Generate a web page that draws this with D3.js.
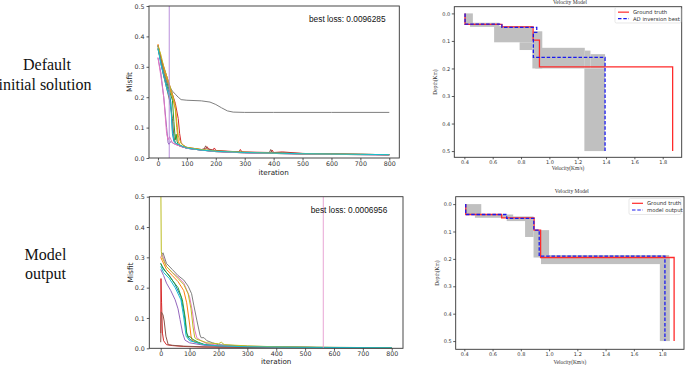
<!DOCTYPE html>
<html><head><meta charset="utf-8">
<script src="https://cdn.jsdelivr.net/npm/d3@7"></script>
<style>body{margin:0;background:#fff}svg{display:block}</style>
</head><body>
<script>
// ---------------- DATA ----------------
const rowLabels = [["Default","initial solution"],["Model","output"]];
const bestLossTop = "best loss: 0.0096285";
const bestLossBottom = "best loss: 0.0006956";
const bestIterTop = 39;
const bestIterBottom = 563;
const iterTicks = [0,100,200,300,400,500,600,700,800];
const misfitTicks = [0,0.1,0.2,0.3,0.4,0.5];
const velTicks = [0.4,0.6,0.8,1.0,1.2,1.4,1.6,1.8];
const depthTicks = [0,0.1,0.2,0.3,0.4,0.5];
const seriesColors = ["#1f77b4","#ff7f0e","#2ca02c","#d62728","#9467bd","#8c564b","#e377c2","#7f7f7f","#bcbd22","#17becf"];

// Top-left: misfit vs iteration (default initial solution)
const topBlue = [[0,0.37],[10,0.31],[20,0.27],[30,0.24],[40,0.21],[45,0.18],[50,0.08],[55,0.055],[60,0.05],[70,0.042],[80,0.038],[100,0.032],[150,0.026],[200,0.022],[300,0.018],[400,0.016],[500,0.014],[600,0.013],[700,0.012],[800,0.011]];
const topOrange = [[0,0.375],[10,0.33],[20,0.29],[30,0.26],[40,0.23],[50,0.2],[60,0.16],[65,0.1],[70,0.055],[75,0.045],[80,0.04],[100,0.033],[150,0.027],[200,0.022],[300,0.018],[400,0.016],[500,0.014],[600,0.013],[700,0.012],[800,0.011]];
const topGreen = [[0,0.36],[10,0.32],[20,0.28],[30,0.25],[40,0.22],[50,0.19],[55,0.12],[60,0.06],[63,0.078],[66,0.055],[70,0.045],[80,0.04],[100,0.032],[150,0.026],[200,0.021],[300,0.017],[400,0.015],[500,0.013],[600,0.012],[700,0.011],[800,0.01]];
const topRed = [[0,0.37],[10,0.33],[20,0.3],[30,0.27],[40,0.24],[50,0.21],[60,0.18],[70,0.13],[75,0.08],[80,0.05],[90,0.04],[100,0.035],[150,0.028],[165,0.03],[170,0.037],[175,0.03],[190,0.026],[195,0.033],[200,0.025],[280,0.02],[285,0.028],[290,0.02],[390,0.018],[395,0.026],[400,0.018],[430,0.02],[500,0.015],[600,0.013],[700,0.012],[800,0.011]];
const topPurple = [[0,0.33],[10,0.28],[20,0.2],[30,0.1],[35,0.05],[38,0.045],[45,0.055],[50,0.05],[60,0.045],[80,0.038],[100,0.032],[150,0.026],[200,0.021],[300,0.017],[400,0.015],[500,0.013],[600,0.012],[700,0.011],[800,0.01]];
const topBrown = [[0,0.36],[10,0.32],[20,0.27],[30,0.23],[40,0.19],[50,0.13],[55,0.07],[60,0.05],[70,0.042],[80,0.038],[100,0.033],[150,0.027],[160,0.03],[165,0.04],[170,0.03],[200,0.023],[300,0.019],[385,0.017],[390,0.028],[395,0.018],[500,0.015],[600,0.013],[700,0.012],[800,0.011]];
const topPink = [[0,0.33],[10,0.27],[20,0.2],[25,0.14],[30,0.08],[35,0.06],[40,0.07],[45,0.06],[50,0.05],[60,0.045],[80,0.038],[100,0.032],[150,0.026],[200,0.021],[300,0.017],[400,0.015],[500,0.013],[600,0.012],[700,0.011],[800,0.01]];
const topGray = [[0,0.37],[10,0.32],[20,0.28],[30,0.25],[40,0.235],[50,0.22],[60,0.21],[70,0.2],[80,0.192],[100,0.19],[150,0.188],[180,0.184],[200,0.176],[220,0.165],[240,0.155],[260,0.151],[300,0.15],[400,0.15],[600,0.15],[800,0.15]];
const topOlive = [[0,0.37],[10,0.34],[20,0.3],[30,0.27],[40,0.24],[50,0.21],[60,0.17],[65,0.12],[70,0.075],[75,0.06],[80,0.048],[90,0.04],[100,0.035],[150,0.028],[200,0.023],[300,0.019],[400,0.016],[500,0.014],[600,0.013],[700,0.012],[800,0.011]];
const topCyan = [[0,0.36],[10,0.31],[20,0.27],[30,0.23],[40,0.2],[45,0.16],[50,0.09],[55,0.06],[60,0.05],[80,0.04],[100,0.033],[150,0.026],[200,0.022],[300,0.018],[400,0.016],[500,0.014],[600,0.013],[700,0.012],[800,0.011]];

// Bottom-left: misfit vs iteration (model output)
const botBlue = [[0,0.28],[10,0.26],[30,0.24],[50,0.21],[70,0.17],[80,0.12],[90,0.05],[100,0.03],[120,0.02],[150,0.012],[200,0.008],[300,0.005],[400,0.004],[500,0.003],[600,0.002],[800,0.002]];
const botOrange = [[0,0.3],[5,0.29],[20,0.26],[40,0.24],[60,0.22],[80,0.19],[90,0.15],[100,0.08],[105,0.04],[110,0.025],[130,0.018],[150,0.012],[200,0.008],[300,0.005],[400,0.004],[500,0.003],[600,0.002],[800,0.002]];
const botGreen = [[0,0.28],[5,0.27],[20,0.25],[40,0.225],[60,0.2],[75,0.16],[85,0.1],[90,0.05],[95,0.035],[100,0.04],[110,0.03],[130,0.02],[150,0.013],[200,0.008],[300,0.005],[400,0.004],[500,0.003],[600,0.002],[800,0.002]];
const botRed = [[0,0.05],[1,0.23],[3,0.15],[6,0.05],[10,0.025],[20,0.012],[40,0.009],[80,0.006],[150,0.004],[300,0.003],[500,0.002],[800,0.001]];
const botPurple = [[0,0.26],[10,0.24],[20,0.215],[35,0.19],[50,0.16],[60,0.13],[67,0.095],[76,0.05],[84,0.027],[100,0.018],[150,0.01],[200,0.007],[300,0.005],[400,0.004],[500,0.003],[600,0.002],[800,0.002]];
const botBrown = [[0,0.02],[2,0.12],[8,0.11],[12,0.09],[18,0.04],[26,0.012],[40,0.01],[80,0.007],[150,0.005],[300,0.003],[500,0.002],[800,0.001]];
const botPink = [[0,0.3],[5,0.31],[20,0.27],[40,0.25],[60,0.235],[80,0.215],[100,0.17],[110,0.12],[118,0.06],[125,0.035],[140,0.025],[160,0.015],[200,0.01],[300,0.006],[400,0.004],[500,0.003],[600,0.002],[800,0.002]];
const botGray = [[5,0.31],[8,0.315],[20,0.28],[40,0.26],[60,0.24],[80,0.225],[95,0.205],[107,0.18],[115,0.14],[125,0.093],[136,0.044],[140,0.035],[150,0.035],[160,0.025],[180,0.018],[200,0.012],[300,0.007],[400,0.005],[500,0.004],[600,0.003],[800,0.002]];
const botOlive = [[0,0.6],[2,0.32],[5,0.3],[20,0.27],[40,0.25],[60,0.23],[80,0.21],[95,0.18],[105,0.13],[112,0.07],[118,0.035],[125,0.03],[140,0.025],[160,0.018],[200,0.015],[210,0.02],[220,0.012],[300,0.008],[400,0.005],[500,0.004],[600,0.003],[800,0.002]];
const botCyan = [[0,0.27],[10,0.25],[30,0.23],[50,0.2],[70,0.16],[80,0.1],[88,0.04],[100,0.025],[150,0.012],[200,0.008],[300,0.005],[500,0.003],[800,0.002]];

// Right: velocity models (layer boundaries in km, velocities in km/s)
const truthTopDepth = [0,0.04,0.049,0.097,0.194,0.5];
const truthTopVel = [0.405,0.665,0.885,0.93,1.87];
const bestTopDepth = [0,0.039,0.051,0.069,0.16,0.5];
const bestTopVel = [0.405,0.665,0.911,0.887,1.393];
const truthBotDepth = [0,0.038,0.05,0.095,0.195,0.5];
const truthBotVel = [0.41,0.664,0.894,0.94,1.885];
const outBotDepth = [0,0.038,0.052,0.095,0.19,0.5];
const outBotVel = [0.41,0.7,0.892,0.93,1.82];
// uncertainty band pieces: [depthTop, depthBottom, velMin, velMax]
const bandTop = [[0,0.04,0.40,0.46],[0.034,0.049,0.44,0.647],[0.046,0.105,0.61,0.88],[0.105,0.133,0.79,0.88],[0.065,0.2,0.88,0.95],[0.125,0.2,0.9,1.25],[0.135,0.2,1.25,1.29],[0.148,0.2,1.29,1.393],[0.2,0.5,1.247,1.393]];
const bandBot = [[0,0.04,0.41,0.52],[0.038,0.05,0.475,0.746],[0.045,0.062,0.70,0.89],[0.05,0.12,0.83,0.89],[0.095,0.195,0.89,1.0],[0.186,0.219,0.943,1.85],[0.195,0.5,1.784,1.855]];

// ---------------- DRAW ----------------
const W = 685, H = 365;
const svg = d3.select("body").append("svg").attr("width", W).attr("height", H);

const serif = "'Liberation Serif','Times New Roman',serif";
svg.append("text").attr("x",47).attr("y",70).attr("text-anchor","middle").attr("font-family",serif).attr("font-size",16).attr("fill","#111").text(rowLabels[0][0]);
svg.append("text").attr("x",45).attr("y",90).attr("text-anchor","middle").attr("font-family",serif).attr("font-size",16).attr("fill","#111").text(rowLabels[0][1]);
svg.append("text").attr("x",45.5).attr("y",260).attr("text-anchor","middle").attr("font-family",serif).attr("font-size",16).attr("fill","#111").text(rowLabels[1][0]);
svg.append("text").attr("x",45.5).attr("y",279).attr("text-anchor","middle").attr("font-family",serif).attr("font-size",16).attr("fill","#111").text(rowLabels[1][1]);

let clipId = 0;
function frame(g, x0, y0, x1, y1) {
  g.append("rect").attr("x",x0).attr("y",y0).attr("width",x1-x0).attr("height",y1-y0)
   .attr("fill","none").attr("stroke","#333").attr("stroke-width",0.9);
}
function clip(g, x0, y0, x1, y1) {
  const id = "clip" + (clipId++);
  svg.append("clipPath").attr("id", id).append("rect").attr("x",x0).attr("y",y0).attr("width",x1-x0).attr("height",y1-y0);
  return g.append("g").attr("clip-path", `url(#${id})`);
}
function styleAxis(ax, fs, family) {
  ax.select(".domain").remove();
  ax.selectAll(".tick line").attr("stroke","#333").attr("stroke-width",0.8);
  ax.selectAll(".tick text").attr("font-size",fs).attr("font-family",family).attr("fill","#333");
}

function misfitPanel(box, xDom, series, best, bestColor, lossText, lossPos, labelPos) {
  const [x0,y0,x1,y1] = box;
  const g = svg.append("g");
  const x = d3.scaleLinear().domain(xDom).range([x0,x1]);
  const y = d3.scaleLinear().domain([0,0.5]).range([y1,y0]);
  const sans = "'DejaVu Sans',sans-serif";
  const ax = g.append("g").attr("transform",`translate(0,${y1})`)
    .call(d3.axisBottom(x).tickValues(iterTicks).tickSize(2.5).tickPadding(1).tickFormat(d3.format("d")));
  styleAxis(ax, 6.3, sans);
  const ay = g.append("g").attr("transform",`translate(${x0},0)`)
    .call(d3.axisLeft(y).tickValues(misfitTicks).tickSize(2.5).tickPadding(2).tickFormat(d3.format(".1f")));
  styleAxis(ay, 6.3, sans);
  const c = clip(g, x0, y0, x1, y1);
  const line = d3.line().x(d => x(d[0])).y(d => y(d[1]));
  series.forEach((s, i) => {
    c.append("path").attr("d", line(s)).attr("fill","none")
      .attr("stroke", seriesColors[i]).attr("stroke-width",1).attr("stroke-linejoin","round");
  });
  c.append("line").attr("x1",x(best)).attr("x2",x(best)).attr("y1",y(0)).attr("y2",y(0.5))
    .attr("stroke",bestColor).attr("stroke-width",0.9);
  frame(g, x0, y0, x1, y1);
  g.append("text").attr("x",lossPos[0]).attr("y",lossPos[1]).attr("font-family","'Liberation Sans',Arial,sans-serif")
    .attr("font-size",8.3).attr("fill","#111").text(lossText);
  g.append("text").attr("x",(x(0)+x(800))/2).attr("y",labelPos[1]).attr("text-anchor","middle")
    .attr("font-family",sans).attr("font-size",7.2).attr("fill","#222").text("iteration");
  g.append("text").attr("transform",`translate(${labelPos[0]},${(y0+y1)/2}) rotate(-90)`).attr("text-anchor","middle")
    .attr("font-family",sans).attr("font-size",7.5).attr("fill","#222").text("Misfit");
}

misfitPanel([149,6,399.3,158], [-31,834.6],
  [topBlue,topOrange,topGreen,topRed,topPurple,topBrown,topPink,topGray,topOlive,topCyan],
  bestIterTop, "#b384d8", bestLossTop, [309,22], [132,175]);
misfitPanel([149.3,196.7,403,348.3], [-39.5,839],
  [botBlue,botOrange,botGreen,botRed,botPurple,botBrown,botPink,botGray,botOlive,botCyan],
  bestIterBottom, "#e59ccf", bestLossBottom, [310.7,212.5], [133,363.6]);

function stepPoints(depth, vel) {
  const pts = [];
  vel.forEach((v, i) => { pts.push([v, depth[i]]); pts.push([v, depth[i+1]]); });
  return pts;
}

function velPanel(box, xDom, yDom, band, truthD, truthV, modD, modV, modName, titleY, legBox, xlabY) {
  const [x0,y0,x1,y1] = box;
  const g = svg.append("g");
  const x = d3.scaleLinear().domain(xDom).range([x0,x1]);
  const y = d3.scaleLinear().domain(yDom).range([y0,y1]);
  const sans = "'DejaVu Sans',sans-serif";
  const ax = g.append("g").attr("transform",`translate(0,${y1})`)
    .call(d3.axisBottom(x).tickValues(velTicks).tickSize(2).tickPadding(1).tickFormat(d3.format(".1f")));
  styleAxis(ax, 5, sans);
  const ay = g.append("g").attr("transform",`translate(${x0},0)`)
    .call(d3.axisLeft(y).tickValues(depthTicks).tickSize(2.5).tickPadding(1.5).tickFormat(d3.format(".1f")));
  styleAxis(ay, 5, sans);
  const c = clip(g, x0, y0, x1, y1);
  c.selectAll("rect.band").data(band).join("rect")
    .attr("x", d => x(d[2])).attr("y", d => y(d[0]))
    .attr("width", d => x(d[3]) - x(d[2])).attr("height", d => y(d[1]) - y(d[0]))
    .attr("fill","#c0c0c0");
  const line = d3.line().x(d => x(d[0])).y(d => y(d[1]));
  c.append("path").attr("d", line(stepPoints(truthD, truthV))).attr("fill","none").attr("stroke","#ff2a2a").attr("stroke-width",1.3);
  c.append("path").attr("d", line(stepPoints(modD, modV))).attr("fill","none").attr("stroke","#1a1aee")
    .attr("stroke-width",1.3).attr("stroke-dasharray","3.5,1.8");
  frame(g, x0, y0, x1, y1);
  g.append("text").attr("x",(x0+x1)/2+2).attr("y",titleY).attr("text-anchor","middle")
    .attr("font-family",serif).attr("font-size",5.5).attr("fill","#333").text("Velocity Model");
  g.append("text").attr("x",(x0+x1)/2).attr("y",xlabY).attr("text-anchor","middle")
    .attr("font-family",serif).attr("font-size",5.3).attr("fill","#333").text("Velocity(Km/s)");
  g.append("text").attr("transform",`translate(${x0-17},${(y0+y1)/2}) rotate(-90)`).attr("text-anchor","middle")
    .attr("font-family",serif).attr("font-size",5.5).attr("fill","#333").text("Depth(Km)");
  const [lx0,ly0,lx1,ly1] = legBox;
  g.append("rect").attr("x",lx0).attr("y",ly0).attr("width",lx1-lx0).attr("height",ly1-ly0).attr("rx",1.5)
    .attr("fill","#fff").attr("fill-opacity",0.85).attr("stroke","#d8d8d8").attr("stroke-width",0.6);
  const r1 = ly0 + (ly1-ly0)*0.3, r2 = ly0 + (ly1-ly0)*0.72;
  g.append("line").attr("x1",lx0+3).attr("x2",lx0+14).attr("y1",r1).attr("y2",r1).attr("stroke","#ff2a2a").attr("stroke-width",1.2);
  g.append("line").attr("x1",lx0+3).attr("x2",lx0+14).attr("y1",r2).attr("y2",r2).attr("stroke","#1a1aee").attr("stroke-width",1.2).attr("stroke-dasharray","3.5,1.8");
  g.append("text").attr("x",lx0+18).attr("y",r1+2).attr("font-family",sans).attr("font-size",5.3).attr("fill","#333").text("Ground truth");
  g.append("text").attr("x",lx0+18).attr("y",r2+2).attr("font-family",sans).attr("font-size",5.3).attr("fill","#333").text(modName);
}

velPanel([454.3,6.7,681.7,157.3], [0.329,1.934], [-0.0243,0.5226], bandTop,
  truthTopDepth, truthTopVel, bestTopDepth, bestTopVel, "AD inversion best", 4, [615,7.5,681,23], 170);
velPanel([455.7,196.7,684,349.3], [0.339,1.955], [-0.027,0.530], bandBot,
  truthBotDepth, truthBotVel, outBotDepth, outBotVel, "model output", 193, [629,198.5,681,214.5], 363.5);
</script>
</body></html>
